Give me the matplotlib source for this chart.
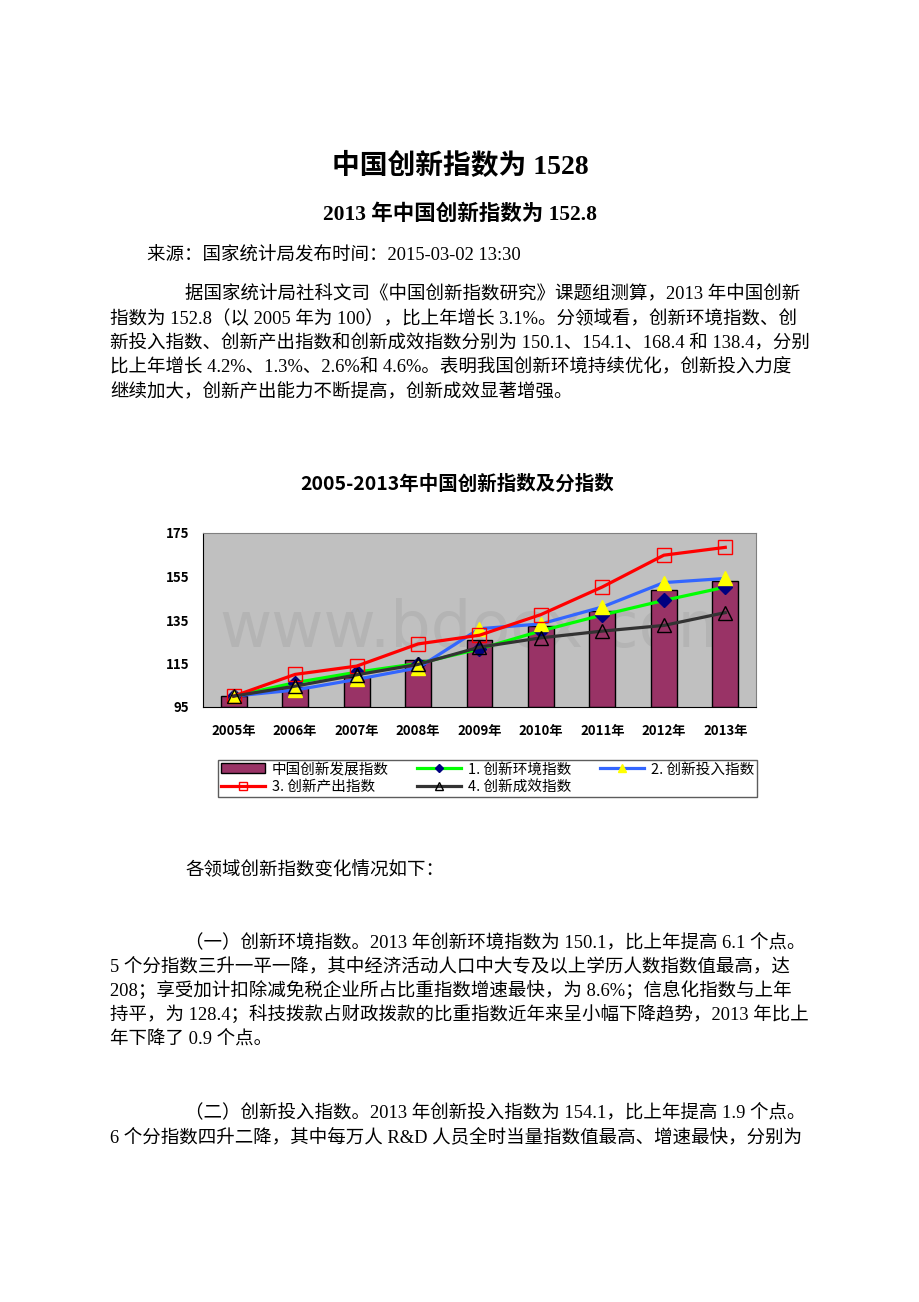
import matplotlib.pyplot as plt

years = ["2005年", "2006年", "2007年", "2008年", "2009年", "2010年", "2011年", "2012年", "2013年"]
total_index = [100, 104.0, 108.6, 116.6, 125.7, 132.3, 139.0, 148.6, 152.8]
env_index = [100, 106.2, 111.0, 115.0, 121.7, 130.0, 137.3, 144.0, 150.1]
input_index = [100, 102.8, 107.7, 113.0, 131.0, 133.2, 141.0, 152.2, 154.1]
output_index = [100, 110.0, 113.8, 124.0, 128.0, 137.5, 150.2, 164.8, 168.4]
effect_index = [100, 104.6, 109.8, 114.6, 122.5, 126.8, 129.9, 132.5, 138.4]
yticks = [95, 115, 135, 155, 175]

series_names = ["中国创新发展指数", "1. 创新环境指数", "2. 创新投入指数", "3. 创新产出指数", "4. 创新成效指数"]

para1 = [
    "据国家统计局社科文司《中国创新指数研究》课题组测算，2013 年中国创新",
    "指数为 152.8（以 2005 年为 100），比上年增长 3.1%。分领域看，创新环境指数、创",
    "新投入指数、创新产出指数和创新成效指数分别为 150.1、154.1、168.4 和 138.4，分别",
    "比上年增长 4.2%、1.3%、2.6%和 4.6%。表明我国创新环境持续优化，创新投入力度",
    "继续加大，创新产出能力不断提高，创新成效显著增强。",
]
para3 = [
    "（一）创新环境指数。2013 年创新环境指数为 150.1，比上年提高 6.1 个点。",
    "5 个分指数三升一平一降，其中经济活动人口中大专及以上学历人数指数值最高，达",
    "208；享受加计扣除减免税企业所占比重指数增速最快，为 8.6%；信息化指数与上年",
    "持平，为 128.4；科技拨款占财政拨款的比重指数近年来呈小幅下降趋势，2013 年比上",
    "年下降了 0.9 个点。",
]
para4 = [
    "（二）创新投入指数。2013 年创新投入指数为 154.1，比上年提高 1.9 个点。",
    "6 个分指数四升二降，其中每万人 R&D 人员全时当量指数值最高、增速最快，分别为",
]

W, H = 920, 1302
serif = ["Liberation Serif", "Noto Sans CJK SC"]
sans = ["Noto Sans CJK SC", "DejaVu Sans"]
plt.rcParams["font.family"] = sans

fig = plt.figure(figsize=(W / 100, H / 100), dpi=100)


def put(x, y, s, size=13.3, weight="normal", ha="left", family=serif):
    fig.text(x / W, 1 - y / H, s, fontsize=size, fontweight=weight, ha=ha,
             va="center", family=family)


def paragraph(lines, y0, step=24.3):
    for i, line in enumerate(lines):
        put(185 if i == 0 else 110, y0 + i * step, line)


put(460, 166, "中国创新指数为 1528", size=20, weight="bold", ha="center")
put(460, 215, "2013 年中国创新指数为 152.8", size=15.5, weight="bold", ha="center")
put(147, 256, "来源：国家统计局发布时间：2015-03-02 13:30")
paragraph(para1, 295)
put(185, 870, "各领域创新指数变化情况如下：")
paragraph(para3, 943)
paragraph(para4, 1113)

# chart
put(457, 484, "2005-2013年中国创新指数及分指数", size=14, weight="bold", ha="center", family=sans)

ax = fig.add_axes([203 / W, 1 - 707 / H, 553 / W, 174 / H])
ax.set_facecolor("#C0C0C0")
x = range(len(years))
bars = ax.bar(x, [v - 95 for v in total_index], bottom=95, width=0.42,
              color="#993366", edgecolor="black", linewidth=1, label=series_names[0], zorder=2)
l1, = ax.plot(x, env_index, color="#00FF00", lw=2.3, marker="D", ms=7,
              mfc="#000080", mec="#000080", label=series_names[1], zorder=3)
l2, = ax.plot(x, input_index, color="#3366FF", lw=2.3, marker="^", ms=10,
              mfc="#FFFF00", mec="#FFFF00", label=series_names[2], zorder=4)
l3, = ax.plot(x, output_index, color="#FF0000", lw=2.3, marker="s", ms=10,
              mfc="none", mec="#FF0000", mew=1, label=series_names[3], zorder=5)
l4, = ax.plot(x, effect_index, color="#333333", lw=2.3, marker="^", ms=10,
              mfc="none", mec="black", mew=1, label=series_names[4], zorder=6)

ax.text(0.5, 0.45, "www.bdocx.com", transform=ax.transAxes, ha="center", va="center",
        fontsize=46, color="#B4B4B4", family="DejaVu Sans", zorder=1)

ax.set_xlim(-0.5, len(years) - 0.5)
ax.set_ylim(yticks[0], yticks[-1])
ax.set_yticks(yticks)
ax.set_xticks(list(x))
ax.set_xticklabels(years, fontsize=9.5, fontweight="bold")
ax.tick_params(axis="y", length=0, pad=10, labelsize=9.5)
ax.tick_params(axis="x", length=0, pad=12)
for lab in ax.get_yticklabels():
    lab.set_fontweight("bold")
for side in ["top", "right"]:
    ax.spines[side].set_color("#808080")
for side in ["left", "bottom"]:
    ax.spines[side].set_color("black")

handles = [bars, l3, l1, l4, l2]
leg = fig.legend(handles, [h.get_label() for h in handles], ncol=3,
                 bbox_to_anchor=(218 / W, 1 - 797 / H, 539 / W, 45 / H), mode="expand",
                 loc="lower left", fontsize=10.5, frameon=True, fancybox=False,
                 edgecolor="#333333", handlelength=3.0, borderaxespad=0, markerscale=0.6,
                 borderpad=0.2, labelspacing=0.25, columnspacing=0.8, handletextpad=0.5)
leg.get_frame().set_linewidth(1)

fig.savefig("out.png", dpi=100, facecolor="white")
